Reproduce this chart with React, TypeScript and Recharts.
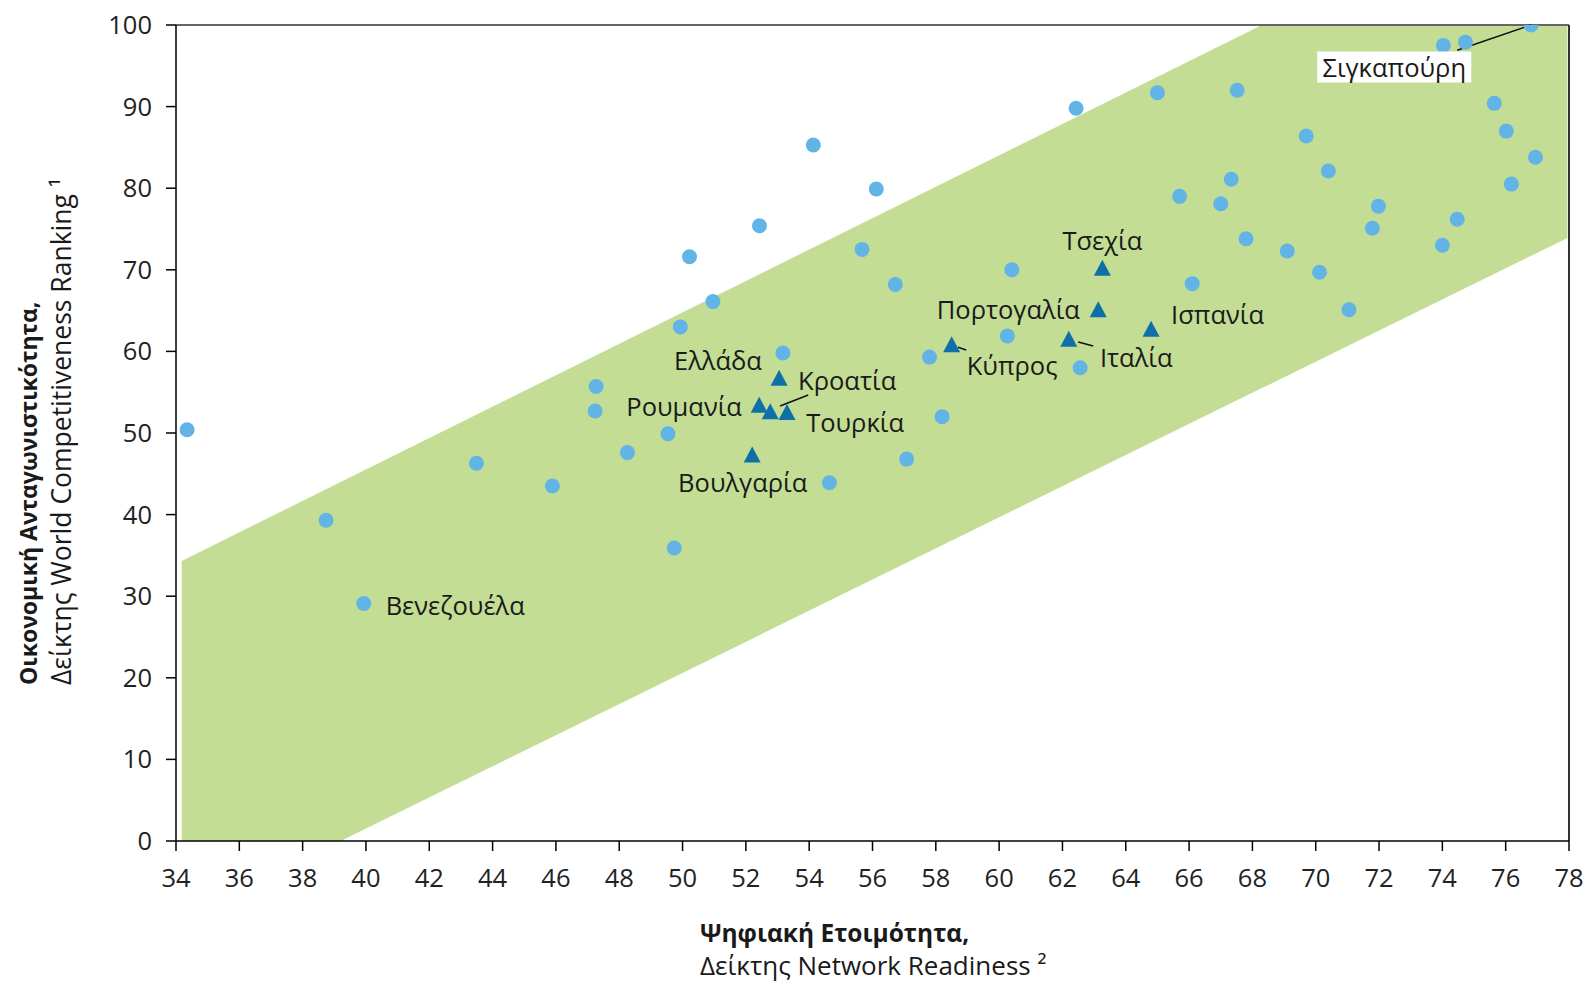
import React from 'react';
import { ComposedChart, Area, Scatter, XAxis, YAxis, ReferenceLine, Label } from 'recharts';

// Ticks
const xTicks = [34, 36, 38, 40, 42, 44, 46, 48, 50, 52, 54, 56, 58, 60, 62, 64, 66, 68, 70, 72, 74, 76, 78];
const yTicks = [0, 10, 20, 30, 40, 50, 60, 70, 80, 90, 100];

// Green band (lower / upper edge)
const bandX = [34.18, 39.2, 68.3, 77.95];
const bandLow = [0, 0, 55.5, 73.9];
const bandHigh = [34.3, 44.0, 100, 100];

// All other countries (light blue circles)
const circleX = [34.35, 38.74, 39.93, 43.49, 45.89, 47.24, 47.27, 48.26, 49.54, 49.93, 49.74, 50.22, 50.96, 52.43, 53.17, 54.13, 54.64, 55.67, 56.12, 56.72, 57.08, 57.8, 58.2, 60.26, 60.4, 62.43, 62.56, 65.0, 65.7, 66.1, 67.0, 67.33, 67.52, 67.8, 69.1, 69.7, 70.12, 70.4, 71.05, 71.79, 71.98, 74.03, 74.73, 75.64, 76.02, 76.94, 76.18, 74.47, 74.0, 76.8];
const circleY = [50.4, 39.3, 29.1, 46.3, 43.5, 52.7, 55.7, 47.6, 49.9, 63.0, 35.9, 71.6, 66.1, 75.4, 59.8, 85.3, 43.9, 72.5, 79.9, 68.2, 46.8, 59.3, 52.0, 61.9, 70.0, 89.8, 58.0, 91.7, 79.0, 68.3, 78.1, 81.1, 92.0, 73.8, 72.3, 86.4, 69.7, 82.1, 65.1, 75.1, 77.8, 97.5, 97.9, 90.4, 87.0, 83.8, 80.5, 76.2, 73.0, 100];

// Highlighted countries (dark blue triangles)
const triX = [63.26, 63.13, 64.8, 62.2, 58.5, 53.05, 52.77, 52.42, 53.3, 52.2];
const triY = [70.2, 65.1, 62.7, 61.5, 60.8, 56.7, 52.6, 53.4, 52.5, 47.3];

// Data labels
const labelText = ['Τσεχία', 'Πορτογαλία', 'Ισπανία', 'Ιταλία', 'Κύπρος', 'Ελλάδα', 'Κροατία', 'Ρουμανία', 'Τουρκία', 'Βουλγαρία', 'Βενεζουέλα'];
const labelX = [63.26, 60.29, 66.9, 64.33, 60.41, 51.12, 55.2, 50.05, 55.45, 51.9, 42.82];
const labelY = [73.6, 65.2, 64.6, 59.3, 58.3, 58.9, 56.5, 53.3, 51.3, 44.0, 28.9];

const singaporeLabel = { x: 72.48, y: 94.85, text: 'Σιγκαπούρη' };

const FONT = "'Open Sans', 'Noto Sans', sans-serif";

const bandData = bandX.map((x, i) => ({ x, y: [bandLow[i], bandHigh[i]] }));
const circleData = circleX.map((x, i) => ({ x, y: circleY[i] }));
const triData = triX.map((x, i) => ({ x, y: triY[i] }));
const labelData = labelText.map((text, i) => ({ x: labelX[i], y: labelY[i], text }));

const Dot = (props: any) => {
  const { cx, cy } = props;
  return <circle cx={cx} cy={cy} r={7.5} fill="#62B4E6" />;
};

const Tri = (props: any) => {
  const { cx, cy } = props;
  const w = 17;
  const h = 15;
  return (
    <polygon
      points={`${cx},${cy - h / 2 - 1} ${cx + w / 2},${cy + h / 2} ${cx - w / 2},${cy + h / 2}`}
      fill="#0F70A8"
    />
  );
};

const TextMark = (props: any) => {
  const { cx, cy, payload } = props;
  return (
    <text x={cx} y={cy} textAnchor="middle" dominantBaseline="central" fontSize={25.5} fontFamily={FONT} fill="#1a1a1a">
      {payload.text}
    </text>
  );
};

const BoxedText = (props: any) => {
  const { cx, cy, payload } = props;
  return (
    <g>
      <rect x={cx - 77} y={cy - 15.5} width={154} height={31} fill="#fff" />
      <text x={cx} y={cy} textAnchor="middle" dominantBaseline="central" fontSize={25.5} fontFamily={FONT} fill="#1a1a1a">
        {payload.text}
      </text>
    </g>
  );
};

const tickStyle = { fontSize: 25.5, fontFamily: FONT, fill: '#222' };

export default function App() {
  return (
    <div style={{ position: 'absolute', left: 0, top: 0, width: 1589, height: 982, background: '#fff' }}>
      <ComposedChart width={1589} height={982} margin={{ top: 25, right: 20, bottom: 81, left: 96 }}>
        <XAxis
          type="number"
          dataKey="x"
          domain={[34, 78]}
          ticks={xTicks}
          allowDataOverflow
          interval={0}
          height={60}
          tickSize={10}
          tickMargin={18}
          tick={tickStyle}
          axisLine={{ stroke: '#000', strokeWidth: 1.5 }}
          tickLine={{ stroke: '#000', strokeWidth: 1.5 }}
        >
          <Label
            content={() => (
              <g fontFamily={FONT} fill="#1a1a1a">
                <text x={700} y={932} fontSize={24.5} fontWeight={700} dominantBaseline="central">
                  Ψηφιακή Ετοιμότητα,
                </text>
                <text x={700} y={965} fontSize={26} dominantBaseline="central">
                  Δείκτης Network Readiness ²
                </text>
              </g>
            )}
          />
        </XAxis>
        <YAxis
          type="number"
          dataKey="y"
          domain={[0, 100]}
          ticks={yTicks}
          allowDataOverflow
          interval={0}
          width={80}
          tickSize={10}
          tickMargin={14}
          tick={tickStyle}
          axisLine={{ stroke: '#000', strokeWidth: 1.5 }}
          tickLine={{ stroke: '#000', strokeWidth: 1.5 }}
        >
          <Label
            content={() => (
              <g fontFamily={FONT} fill="#1a1a1a">
                <text x={28} y={685} fontSize={23} fontWeight={700} dominantBaseline="central" transform="rotate(-90 28 685)">
                  Οικονομική Ανταγωνιστικότητα,
                </text>
                <text x={61} y={685} fontSize={26.5} dominantBaseline="central" transform="rotate(-90 61 685)">
                  Δείκτης World Competitiveness Ranking ¹
                </text>
              </g>
            )}
          />
        </YAxis>

        <Area
          data={bandData}
          dataKey="y"
          type="linear"
          fill="#C3DD94"
          fillOpacity={1}
          stroke="none"
          isAnimationActive={false}
          activeDot={false}
          dot={false}
        />

        <ReferenceLine y={100} stroke="#666" strokeWidth={2} />
        <ReferenceLine x={78} stroke="#333" strokeWidth={2} />

        <ReferenceLine segment={[{ x: 74.47, y: 96.9 }, { x: 76.8, y: 100 }]} stroke="#111" strokeWidth={1.5} />
        <ReferenceLine segment={[{ x: 53.97, y: 54.66 }, { x: 53.08, y: 53.3 }]} stroke="#111" strokeWidth={1.5} />
        <ReferenceLine segment={[{ x: 62.97, y: 60.66 }, { x: 62.5, y: 61.15 }]} stroke="#111" strokeWidth={1.5} />
        <ReferenceLine segment={[{ x: 58.96, y: 60.17 }, { x: 58.7, y: 60.5 }]} stroke="#111" strokeWidth={1.5} />

        <Scatter data={circleData} shape={Dot} isAnimationActive={false} />
        <Scatter data={triData} shape={Tri} isAnimationActive={false} />
        <Scatter data={labelData} shape={TextMark} isAnimationActive={false} />
        <Scatter data={[singaporeLabel]} shape={BoxedText} isAnimationActive={false} />
      </ComposedChart>
    </div>
  );
}
